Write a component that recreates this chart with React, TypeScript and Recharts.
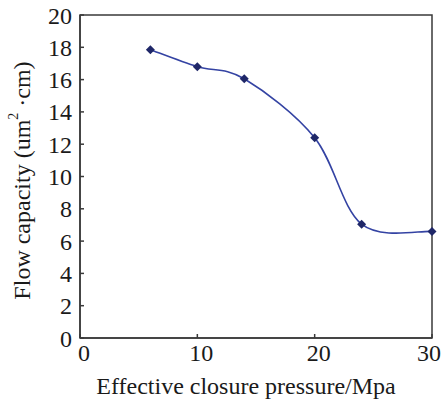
import React from "react";
import {
  LineChart,
  Line,
  XAxis,
  YAxis,
  ReferenceArea,
  Label,
} from "recharts";

const pressure = [6, 10, 14, 20, 24, 30];
const capacity = [17.85, 16.8, 16.05, 12.4, 7.05, 6.6];
const xTicks = [0, 10, 20, 30];
const yTicks = [0, 2, 4, 6, 8, 10, 12, 14, 16, 18, 20];

const data = pressure.map((p, i) => ({ p, c: capacity[i] }));

const FONT = "'Liberation Serif', 'Times New Roman', serif";
const TEXT = "#1a1a1a";
const AXIS = "#3a3a3a";

// Excel-style smoothed line (Catmull-Rom bezier)
const excelCurve = (context: any) => {
  let pts: [number, number][] = [];
  return {
    areaStart() {},
    areaEnd() {},
    lineStart() {
      pts = [];
    },
    point(x: number, y: number) {
      pts.push([+x, +y]);
    },
    lineEnd() {
      if (!pts.length) return;
      context.moveTo(pts[0][0], pts[0][1]);
      for (let i = 0; i < pts.length - 1; i++) {
        const p0 = pts[Math.max(i - 1, 0)];
        const p1 = pts[i];
        const p2 = pts[i + 1];
        const p3 = pts[Math.min(i + 2, pts.length - 1)];
        context.bezierCurveTo(
          p1[0] + (p2[0] - p0[0]) / 6,
          p1[1] + (p2[1] - p0[1]) / 6,
          p2[0] - (p3[0] - p1[0]) / 6,
          p2[1] - (p3[1] - p1[1]) / 6,
          p2[0],
          p2[1]
        );
      }
    },
  };
};

const Diamond = (props: any) => {
  const { cx, cy } = props;
  if (cx == null || cy == null) return null;
  const r = 4.5;
  return (
    <path
      d={`M${cx},${cy - r}L${cx + r},${cy}L${cx},${cy + r}L${cx - r},${cy}Z`}
      fill="#1f2768"
    />
  );
};

const XTick = (props: any) => {
  const { x, y, payload } = props;
  const last = payload.value === xTicks[xTicks.length - 1];
  return (
    <text
      x={x + (last ? -3 : 4)}
      y={y}
      dy="0.8em"
      textAnchor="middle"
      fontFamily={FONT}
      fontSize={24}
      fill={TEXT}
    >
      {payload.value}
    </text>
  );
};

const YLabel = (props: any) => {
  const vb = props.viewBox || {};
  const x = vb.x + 22;
  const y = vb.y + vb.height / 2 + 4;
  return (
    <text
      x={x}
      y={y}
      transform={`rotate(-90 ${x} ${y})`}
      textAnchor="middle"
      dominantBaseline="central"
      fontFamily={FONT}
      fontSize={24}
      fill={TEXT}
    >
      Flow capacity (um
      <tspan fontSize={14} dy={-9}>2</tspan>
      <tspan dy={9}> ·cm)</tspan>
    </text>
  );
};

const XLabel = (props: any) => {
  const vb = props.viewBox || {};
  return (
    <text
      x={vb.x + vb.width / 2 - 10}
      y={vb.y + 56}
      textAnchor="middle"
      fontFamily={FONT}
      fontSize={24}
      fill={TEXT}
    >
      Effective closure pressure/Mpa
    </text>
  );
};

export default function App() {
  return (
    <div style={{ position: "absolute", left: 0, top: 0 }}>
      <LineChart
        width={441}
        height={404}
        data={data}
        margin={{ top: 15, right: 9, left: 0, bottom: 0 }}
      >
        <XAxis
          dataKey="p"
          type="number"
          domain={[0, 30]}
          ticks={xTicks}
          height={66}
          stroke={AXIS}
          strokeWidth={1.5}
          tickSize={-4}
          tickMargin={8}
          tick={<XTick />}
        >
          <Label content={<XLabel />} />
        </XAxis>
        <YAxis
          type="number"
          domain={[0, 20]}
          ticks={yTicks}
          width={80}
          interval={0}
          stroke={AXIS}
          strokeWidth={1.5}
          tickSize={-4}
          tickMargin={12}
          tick={{ fontFamily: FONT, fontSize: 24, fill: TEXT }}
        >
          <Label content={<YLabel />} />
        </YAxis>
        <ReferenceArea
          x1={0}
          x2={30}
          y1={0}
          y2={20}
          fill="none"
          stroke={AXIS}
          strokeWidth={1.5}
          fillOpacity={0}
        />
        <Line
          dataKey="c"
          type={excelCurve as any}
          stroke="#3443a3"
          strokeWidth={1.6}
          dot={<Diamond />}
          activeDot={false}
          isAnimationActive={false}
        />
      </LineChart>
    </div>
  );
}
